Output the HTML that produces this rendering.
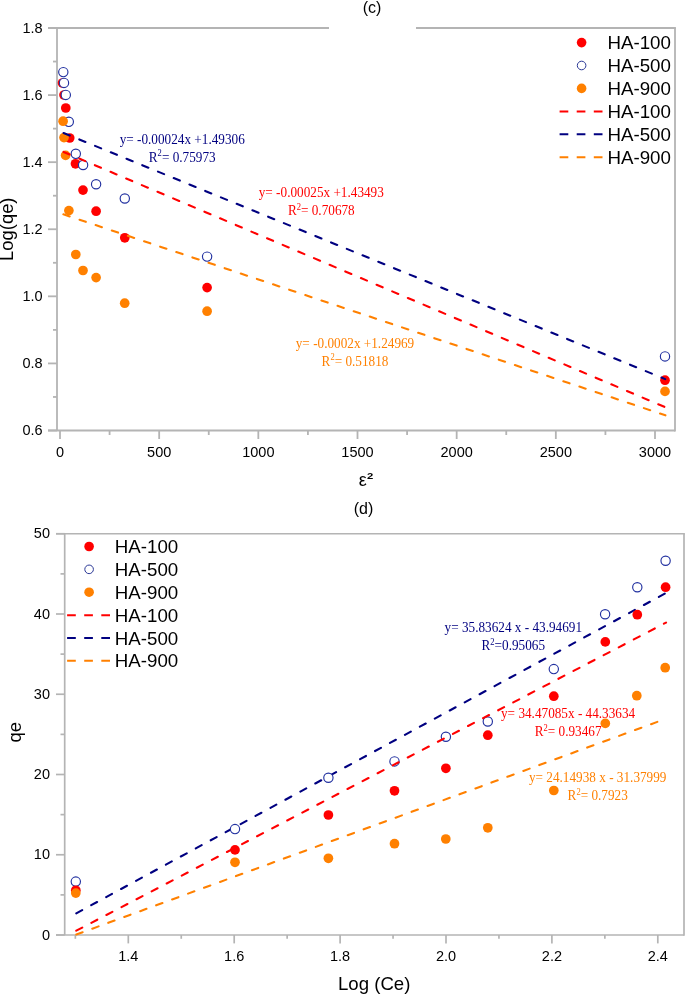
<!DOCTYPE html>
<html><head><meta charset="utf-8"><title>Chart</title>
<style>
html,body{margin:0;padding:0;background:#fff;}
body{width:685px;height:994px;overflow:hidden;}
svg{display:block;will-change:transform;}

</style></head>
<body>
<svg width="685" height="994" viewBox="0 0 685 994">
<rect x="0" y="0" width="685" height="994" fill="#fff"/>
<g stroke="#b4b4b4" stroke-width="1.8" fill="none" stroke-linecap="butt">
<line x1="48" y1="28" x2="329" y2="28"/>
<line x1="416" y1="28" x2="675.9" y2="28"/>
<line x1="675" y1="28" x2="675" y2="431.4"/>
<line x1="57" y1="28" x2="57" y2="430.5"/>
<line x1="48" y1="430.5" x2="675" y2="430.5"/>
<line x1="48" y1="430.5" x2="57" y2="430.5"/>
<line x1="48" y1="363.42" x2="57" y2="363.42"/>
<line x1="48" y1="296.33" x2="57" y2="296.33"/>
<line x1="48" y1="229.25" x2="57" y2="229.25"/>
<line x1="48" y1="162.17" x2="57" y2="162.17"/>
<line x1="48" y1="95.08" x2="57" y2="95.08"/>
<line x1="48" y1="28" x2="57" y2="28"/>
<line x1="53" y1="396.96" x2="57" y2="396.96"/>
<line x1="53" y1="329.88" x2="57" y2="329.88"/>
<line x1="53" y1="262.79" x2="57" y2="262.79"/>
<line x1="53" y1="195.71" x2="57" y2="195.71"/>
<line x1="53" y1="128.62" x2="57" y2="128.62"/>
<line x1="53" y1="61.54" x2="57" y2="61.54"/>
<line x1="60" y1="430.5" x2="60" y2="439"/>
<line x1="159.17" y1="430.5" x2="159.17" y2="439"/>
<line x1="258.33" y1="430.5" x2="258.33" y2="439"/>
<line x1="357.5" y1="430.5" x2="357.5" y2="439"/>
<line x1="456.67" y1="430.5" x2="456.67" y2="439"/>
<line x1="555.83" y1="430.5" x2="555.83" y2="439"/>
<line x1="655" y1="430.5" x2="655" y2="439"/>
<line x1="109.58" y1="430.5" x2="109.58" y2="435"/>
<line x1="208.75" y1="430.5" x2="208.75" y2="435"/>
<line x1="307.92" y1="430.5" x2="307.92" y2="435"/>
<line x1="407.08" y1="430.5" x2="407.08" y2="435"/>
<line x1="506.25" y1="430.5" x2="506.25" y2="435"/>
<line x1="605.42" y1="430.5" x2="605.42" y2="435"/>
</g>
<g font-family="'Liberation Sans', sans-serif" font-size="14.5" fill="#000">
<text x="42.6" y="435.1" text-anchor="end">0.6</text>
<text x="42.6" y="368.02" text-anchor="end">0.8</text>
<text x="42.6" y="300.93" text-anchor="end">1.0</text>
<text x="42.6" y="233.85" text-anchor="end">1.2</text>
<text x="42.6" y="166.77" text-anchor="end">1.4</text>
<text x="42.6" y="99.68" text-anchor="end">1.6</text>
<text x="42.6" y="32.6" text-anchor="end">1.8</text>
<text x="60" y="457.0" text-anchor="middle">0</text>
<text x="159.17" y="457.0" text-anchor="middle">500</text>
<text x="258.33" y="457.0" text-anchor="middle">1000</text>
<text x="357.5" y="457.0" text-anchor="middle">1500</text>
<text x="456.67" y="457.0" text-anchor="middle">2000</text>
<text x="555.83" y="457.0" text-anchor="middle">2500</text>
<text x="655" y="457.0" text-anchor="middle">3000</text>
</g>
<text x="13.3" y="229.2" font-family="'Liberation Sans', sans-serif" font-size="18.4" text-anchor="middle" transform="rotate(-90 13.3 229.2)">Log(qe)</text>
<text x="358.8" y="486" font-family="'Liberation Sans', sans-serif" font-size="18">ε</text>
<text transform="translate(366.9 479.1) scale(1.14 1)" font-family="'Liberation Sans', sans-serif" font-size="9.9" font-weight="bold">2</text>
<text x="372" y="13" font-family="'Liberation Sans', sans-serif" font-size="16" text-anchor="middle">(c)</text>
<circle cx="62.5" cy="83" r="4.85" fill="#ff0000"/>
<circle cx="64" cy="95" r="4.85" fill="#ff0000"/>
<circle cx="65.8" cy="108" r="4.85" fill="#ff0000"/>
<circle cx="69.7" cy="138" r="4.85" fill="#ff0000"/>
<circle cx="75.5" cy="163.8" r="4.85" fill="#ff0000"/>
<circle cx="83" cy="190.1" r="4.85" fill="#ff0000"/>
<circle cx="96.1" cy="211.2" r="4.85" fill="#ff0000"/>
<circle cx="124.8" cy="237.8" r="4.85" fill="#ff0000"/>
<circle cx="207.1" cy="287.6" r="4.85" fill="#ff0000"/>
<circle cx="665" cy="380.2" r="4.85" fill="#ff0000"/>
<circle cx="63.3" cy="72.1" r="4.65" fill="#fff" stroke="#2231a0" stroke-width="1.15"/>
<circle cx="64" cy="82.9" r="4.65" fill="#fff" stroke="#2231a0" stroke-width="1.15"/>
<circle cx="65.8" cy="94.9" r="4.65" fill="#fff" stroke="#2231a0" stroke-width="1.15"/>
<circle cx="68.8" cy="121.8" r="4.65" fill="#fff" stroke="#2231a0" stroke-width="1.15"/>
<circle cx="75.8" cy="153.8" r="4.65" fill="#fff" stroke="#2231a0" stroke-width="1.15"/>
<circle cx="83.1" cy="165" r="4.65" fill="#fff" stroke="#2231a0" stroke-width="1.15"/>
<circle cx="96.1" cy="184.2" r="4.65" fill="#fff" stroke="#2231a0" stroke-width="1.15"/>
<circle cx="124.8" cy="198.5" r="4.65" fill="#fff" stroke="#2231a0" stroke-width="1.15"/>
<circle cx="207.1" cy="256.6" r="4.65" fill="#fff" stroke="#2231a0" stroke-width="1.15"/>
<circle cx="665" cy="356.4" r="4.65" fill="#fff" stroke="#2231a0" stroke-width="1.15"/>
<circle cx="63.1" cy="121.2" r="4.85" fill="#ff8000"/>
<circle cx="64" cy="137.6" r="4.85" fill="#ff8000"/>
<circle cx="65.6" cy="155.4" r="4.85" fill="#ff8000"/>
<circle cx="68.9" cy="210.6" r="4.85" fill="#ff8000"/>
<circle cx="75.8" cy="254.5" r="4.85" fill="#ff8000"/>
<circle cx="83" cy="270.5" r="4.85" fill="#ff8000"/>
<circle cx="96.1" cy="277.6" r="4.85" fill="#ff8000"/>
<circle cx="124.7" cy="303.2" r="4.85" fill="#ff8000"/>
<circle cx="207.1" cy="311.2" r="4.85" fill="#ff8000"/>
<circle cx="665" cy="391.4" r="4.85" fill="#ff8000"/>
<line x1="62.6" y1="151.5" x2="665.2" y2="407.2" stroke="#ff0000" stroke-width="2.1" stroke-dasharray="6.6 10.4" stroke-linecap="round" stroke-dashoffset="-1.05"/>
<line x1="62.6" y1="132.6" x2="665.2" y2="379.1" stroke="#000080" stroke-width="2.1" stroke-dasharray="6.6 10.4" stroke-linecap="round" stroke-dashoffset="-1.05"/>
<line x1="62.4" y1="214.0" x2="665.4" y2="415.3" stroke="#ff8000" stroke-width="2.1" stroke-dasharray="6.6 10.4" stroke-linecap="round" stroke-dashoffset="-1.05"/>
<g font-family="'Liberation Serif', serif" font-size="13.3" fill="#000080" text-anchor="middle">
<text transform="translate(182.2 143.9) scale(0.995 1.1)">y= -0.00024x +1.49306</text>
<text transform="translate(182.2 161.9) scale(0.995 1.1)">R<tspan font-size="8.6" dy="-5">2</tspan><tspan dy="5">= 0.75973</tspan></text>
</g>
<g font-family="'Liberation Serif', serif" font-size="13.3" fill="#ff0000" text-anchor="middle">
<text transform="translate(321.3 197.3) scale(0.995 1.1)">y= -0.00025x +1.43493</text>
<text transform="translate(321.3 215.3) scale(0.995 1.1)">R<tspan font-size="8.6" dy="-5">2</tspan><tspan dy="5">= 0.70678</tspan></text>
</g>
<g font-family="'Liberation Serif', serif" font-size="13.3" fill="#ff8000" text-anchor="middle">
<text transform="translate(355.0 347.8) scale(0.995 1.1)">y= -0.0002x +1.24969</text>
<text transform="translate(355.0 365.8) scale(0.995 1.1)">R<tspan font-size="8.6" dy="-5">2</tspan><tspan dy="5">= 0.51818</tspan></text>
</g>
<circle cx="581.6" cy="42.6" r="4.8" fill="#ff0000"/>
<text transform="translate(607.4 49.2) scale(1.04 1)" font-family="'Liberation Sans', sans-serif" font-size="18">HA-100</text>
<circle cx="581.6" cy="65.5" r="4.3" fill="#fff" stroke="#2a3896" stroke-width="1.0"/>
<text transform="translate(607.4 72.1) scale(1.04 1)" font-family="'Liberation Sans', sans-serif" font-size="18">HA-500</text>
<circle cx="581.6" cy="88.4" r="4.8" fill="#ff8000"/>
<text transform="translate(607.4 95) scale(1.04 1)" font-family="'Liberation Sans', sans-serif" font-size="18">HA-900</text>
<line x1="559.6" y1="111.4" x2="603.1" y2="111.4" stroke="#ff0000" stroke-width="2" stroke-dasharray="8.7 8.4"/>
<text transform="translate(607.4 117.9) scale(1.04 1)" font-family="'Liberation Sans', sans-serif" font-size="18">HA-100</text>
<line x1="559.6" y1="134.3" x2="603.1" y2="134.3" stroke="#000080" stroke-width="2" stroke-dasharray="8.7 8.4"/>
<text transform="translate(607.4 140.8) scale(1.04 1)" font-family="'Liberation Sans', sans-serif" font-size="18">HA-500</text>
<line x1="559.6" y1="157.2" x2="603.1" y2="157.2" stroke="#ff8000" stroke-width="2" stroke-dasharray="8.7 8.4"/>
<text transform="translate(607.4 163.7) scale(1.04 1)" font-family="'Liberation Sans', sans-serif" font-size="18">HA-900</text>
<g stroke="#b4b4b4" stroke-width="1.7" fill="none">
<line x1="56" y1="533.75" x2="684.85" y2="533.75"/>
<line x1="684" y1="533.75" x2="684" y2="935.85"/>
<line x1="64.7" y1="533.75" x2="64.7" y2="935"/>
<line x1="56" y1="935" x2="684" y2="935"/>
<line x1="56" y1="935" x2="64.7" y2="935"/>
<line x1="56" y1="854.75" x2="64.7" y2="854.75"/>
<line x1="56" y1="774.5" x2="64.7" y2="774.5"/>
<line x1="56" y1="694.25" x2="64.7" y2="694.25"/>
<line x1="56" y1="614" x2="64.7" y2="614"/>
<line x1="56" y1="533.75" x2="64.7" y2="533.75"/>
<line x1="60.5" y1="894.88" x2="64.7" y2="894.88"/>
<line x1="60.5" y1="814.62" x2="64.7" y2="814.62"/>
<line x1="60.5" y1="734.38" x2="64.7" y2="734.38"/>
<line x1="60.5" y1="654.12" x2="64.7" y2="654.12"/>
<line x1="60.5" y1="573.88" x2="64.7" y2="573.88"/>
<line x1="128.3" y1="935" x2="128.3" y2="943.4"/>
<line x1="234.2" y1="935" x2="234.2" y2="943.4"/>
<line x1="340.1" y1="935" x2="340.1" y2="943.4"/>
<line x1="446" y1="935" x2="446" y2="943.4"/>
<line x1="551.9" y1="935" x2="551.9" y2="943.4"/>
<line x1="657.8" y1="935" x2="657.8" y2="943.4"/>
<line x1="75.35" y1="935" x2="75.35" y2="938.8"/>
<line x1="181.25" y1="935" x2="181.25" y2="938.8"/>
<line x1="287.15" y1="935" x2="287.15" y2="938.8"/>
<line x1="393.05" y1="935" x2="393.05" y2="938.8"/>
<line x1="498.95" y1="935" x2="498.95" y2="938.8"/>
<line x1="604.85" y1="935" x2="604.85" y2="938.8"/>
</g>
<g font-family="'Liberation Sans', sans-serif" font-size="14.5" fill="#000">
<text x="50.0" y="939.5" text-anchor="end">0</text>
<text x="50.0" y="859.25" text-anchor="end">10</text>
<text x="50.0" y="779" text-anchor="end">20</text>
<text x="50.0" y="698.75" text-anchor="end">30</text>
<text x="50.0" y="618.5" text-anchor="end">40</text>
<text x="50.0" y="538.25" text-anchor="end">50</text>
<text x="128.3" y="960.7" text-anchor="middle">1.4</text>
<text x="234.2" y="960.7" text-anchor="middle">1.6</text>
<text x="340.1" y="960.7" text-anchor="middle">1.8</text>
<text x="446" y="960.7" text-anchor="middle">2.0</text>
<text x="551.9" y="960.7" text-anchor="middle">2.2</text>
<text x="657.8" y="960.7" text-anchor="middle">2.4</text>
</g>
<text x="21.5" y="732.3" font-family="'Liberation Sans', sans-serif" font-size="18.5" text-anchor="middle" transform="rotate(-90 21.5 732.3)">qe</text>
<text x="374.2" y="989.7" font-family="'Liberation Sans', sans-serif" font-size="18.6" text-anchor="middle">Log (Ce)</text>
<text x="363.5" y="513.5" font-family="'Liberation Sans', sans-serif" font-size="16" text-anchor="middle">(d)</text>
<line x1="75.35" y1="913.81" x2="666.01" y2="593.01" stroke="#000080" stroke-width="2.1" stroke-dasharray="6.7 10.3" stroke-linecap="round" stroke-dashoffset="-1.05"/>
<circle cx="75.8" cy="881.6" r="4.65" fill="#fff" stroke="#2231a0" stroke-width="1.15"/>
<circle cx="235" cy="829.1" r="4.65" fill="#fff" stroke="#2231a0" stroke-width="1.15"/>
<circle cx="328.4" cy="777.7" r="4.65" fill="#fff" stroke="#2231a0" stroke-width="1.15"/>
<circle cx="394.5" cy="761.4" r="4.65" fill="#fff" stroke="#2231a0" stroke-width="1.15"/>
<circle cx="445.9" cy="736.8" r="4.65" fill="#fff" stroke="#2231a0" stroke-width="1.15"/>
<circle cx="487.8" cy="721.5" r="4.65" fill="#fff" stroke="#2231a0" stroke-width="1.15"/>
<circle cx="553.8" cy="669.1" r="4.65" fill="#fff" stroke="#2231a0" stroke-width="1.15"/>
<circle cx="605.1" cy="614.2" r="4.65" fill="#fff" stroke="#2231a0" stroke-width="1.15"/>
<circle cx="637.3" cy="587.2" r="4.65" fill="#fff" stroke="#2231a0" stroke-width="1.15"/>
<circle cx="665.6" cy="560.7" r="4.65" fill="#fff" stroke="#2231a0" stroke-width="1.15"/>
<line x1="75.35" y1="931.18" x2="666.01" y2="622.6" stroke="#ff0000" stroke-width="2.1" stroke-dasharray="6.7 10.3" stroke-linecap="round" stroke-dashoffset="-1.05"/>
<circle cx="75.8" cy="890.3" r="4.85" fill="#ff0000"/>
<circle cx="235" cy="849.9" r="4.85" fill="#ff0000"/>
<circle cx="328.4" cy="815.0" r="4.85" fill="#ff0000"/>
<circle cx="394.5" cy="790.8" r="4.85" fill="#ff0000"/>
<circle cx="445.9" cy="768.3" r="4.85" fill="#ff0000"/>
<circle cx="487.8" cy="735.2" r="4.85" fill="#ff0000"/>
<circle cx="553.8" cy="696.2" r="4.85" fill="#ff0000"/>
<circle cx="605.3" cy="641.9" r="4.85" fill="#ff0000"/>
<circle cx="637.3" cy="614.7" r="4.85" fill="#ff0000"/>
<circle cx="665.6" cy="587.2" r="4.85" fill="#ff0000"/>
<line x1="75.35" y1="934.89" x2="666.01" y2="718.7" stroke="#ff8000" stroke-width="2.1" stroke-dasharray="6.7 10.3" stroke-linecap="round" stroke-dashoffset="-1.05"/>
<circle cx="75.8" cy="893.1" r="4.85" fill="#ff8000"/>
<circle cx="235" cy="862.3" r="4.85" fill="#ff8000"/>
<circle cx="328.4" cy="858.3" r="4.85" fill="#ff8000"/>
<circle cx="394.5" cy="843.7" r="4.85" fill="#ff8000"/>
<circle cx="445.8" cy="839.0" r="4.85" fill="#ff8000"/>
<circle cx="487.8" cy="827.8" r="4.85" fill="#ff8000"/>
<circle cx="553.8" cy="790.5" r="4.85" fill="#ff8000"/>
<circle cx="605.3" cy="723.4" r="4.85" fill="#ff8000"/>
<circle cx="636.8" cy="695.7" r="4.85" fill="#ff8000"/>
<circle cx="665.2" cy="667.7" r="4.85" fill="#ff8000"/>
<g font-family="'Liberation Serif', serif" font-size="13.3" fill="#000080" text-anchor="middle">
<text transform="translate(513.3 632.1) scale(0.995 1.1)">y= 35.83624 x - 43.94691</text>
<text transform="translate(513.3 650.0) scale(0.995 1.1)">R<tspan font-size="8.6" dy="-5">2</tspan><tspan dy="5">=0.95065</tspan></text>
</g>
<g font-family="'Liberation Serif', serif" font-size="13.3" fill="#ff0000" text-anchor="middle">
<text transform="translate(568.1 718.0) scale(0.995 1.1)">y= 34.47085x - 44.33634</text>
<text transform="translate(568.1 736.1) scale(0.995 1.1)">R<tspan font-size="8.6" dy="-5">2</tspan><tspan dy="5">= 0.93467</tspan></text>
</g>
<g font-family="'Liberation Serif', serif" font-size="13.3" fill="#ff8000" text-anchor="middle">
<text transform="translate(597.7 782.1) scale(0.995 1.1)">y= 24.14938 x - 31.37999</text>
<text transform="translate(597.7 800.0) scale(0.995 1.1)">R<tspan font-size="8.6" dy="-5">2</tspan><tspan dy="5">= 0.7923</tspan></text>
</g>
<circle cx="89.1" cy="546.5" r="4.8" fill="#ff0000"/>
<text transform="translate(114.8 553.1) scale(1.04 1)" font-family="'Liberation Sans', sans-serif" font-size="18">HA-100</text>
<circle cx="89.1" cy="569.35" r="4.3" fill="#fff" stroke="#2a3896" stroke-width="1.0"/>
<text transform="translate(114.8 575.95) scale(1.04 1)" font-family="'Liberation Sans', sans-serif" font-size="18">HA-500</text>
<circle cx="89.1" cy="592.2" r="4.8" fill="#ff8000"/>
<text transform="translate(114.8 598.8) scale(1.04 1)" font-family="'Liberation Sans', sans-serif" font-size="18">HA-900</text>
<line x1="67.1" y1="615.15" x2="110.6" y2="615.15" stroke="#ff0000" stroke-width="2" stroke-dasharray="8.7 8.4"/>
<text transform="translate(114.8 621.65) scale(1.04 1)" font-family="'Liberation Sans', sans-serif" font-size="18">HA-100</text>
<line x1="67.1" y1="638" x2="110.6" y2="638" stroke="#000080" stroke-width="2" stroke-dasharray="8.7 8.4"/>
<text transform="translate(114.8 644.5) scale(1.04 1)" font-family="'Liberation Sans', sans-serif" font-size="18">HA-500</text>
<line x1="67.1" y1="660.85" x2="110.6" y2="660.85" stroke="#ff8000" stroke-width="2" stroke-dasharray="8.7 8.4"/>
<text transform="translate(114.8 667.35) scale(1.04 1)" font-family="'Liberation Sans', sans-serif" font-size="18">HA-900</text>
</svg>
</body></html>
